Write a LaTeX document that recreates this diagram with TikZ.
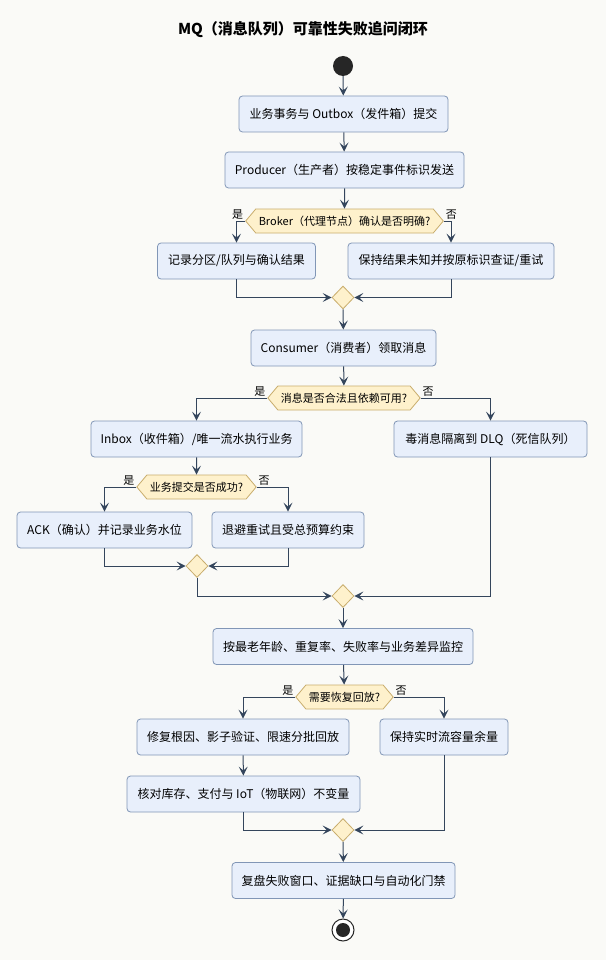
\documentclass[tikz,border=0pt]{standalone}
\usepackage{fontspec}
\setmainfont{Noto Sans CJK SC}
\usetikzlibrary{arrows.meta,shapes.geometric,shapes.symbols}

\definecolor{pagebg}{HTML}{FAFAF7}
\definecolor{stepfill}{HTML}{E8EFFB}
\definecolor{stepline}{HTML}{8196B6}
\definecolor{askfill}{HTML}{FEF1CC}
\definecolor{askline}{HTML}{C9AD6C}
\definecolor{flowline}{HTML}{34455C}

\tikzset{
  stepbox/.style={draw=stepline, fill=stepfill, rounded corners=3.5pt, line width=0.8pt,
    minimum height=36pt, inner xsep=6pt, font=\fontsize{12}{14}\selectfont},
  askbox/.style={shape=signal, signal to=west and east, signal pointer angle=100,
    draw=askline, fill=askfill, line width=0.8pt, minimum height=24pt, inner xsep=3pt,
    font=\fontsize{11}{13}\selectfont},
  joinbox/.style={diamond, draw=askline, fill=askfill, line width=0.8pt,
    minimum width=22pt, minimum height=23pt, inner sep=0pt},
  flow/.style={draw=flowline, line width=1pt,
    -{Stealth[length=9pt,width=9pt,inset=4pt]}},
  tag/.style={font=\fontsize{11}{13}\selectfont, text=black, inner sep=1.5pt}
}

\begin{document}
\begin{tikzpicture}[x=1pt,y=-1pt]
  \fill[pagebg] (0,0) rectangle (606,960);
  \useasboundingbox (0,0) rectangle (606,960);

  \node[font=\fontsize{15}{17}\selectfont\bfseries] (title) at (303,30) {MQ（消息队列）可靠性失败追问闭环};

  % start
  \node[circle, fill=black!85, minimum size=20pt, inner sep=0pt] (begin) at (343,66) {};

  % producer side
  \node[stepbox, minimum width=209pt] (outbox) at (343.5,114) {业务事务与 Outbox（发件箱）提交};
  \node[stepbox, minimum width=239pt] (produce) at (344.5,170) {Producer（生产者）按稳定事件标识发送};
  \node[askbox, minimum width=195pt] (brokerok) at (344.5,221) {Broker（代理节点）确认是否明确?};
  \node[stepbox, minimum width=158pt] (record) at (236.5,261) {记录分区/队列与确认结果};
  \node[stepbox, minimum width=206pt] (recheck) at (451,261) {保持结果未知并按原标识查证/重试};
  \node[joinbox] (join1) at (343,297.5) {};

  % consumer side
  \node[stepbox, minimum width=185pt] (consume) at (343.5,348) {Consumer（消费者）领取消息};
  \node[askbox, minimum width=152pt] (valid) at (344,398) {消息是否合法且依赖可用?};
  \node[stepbox, minimum width=211pt] (inbox) at (196.5,439) {Inbox（收件箱）/唯一流水执行业务};
  \node[stepbox, minimum width=193pt] (dlq) at (490.5,439) {毒消息隔离到 DLQ（死信队列）};
  \node[askbox, minimum width=117pt] (commitok) at (196.5,487) {业务提交是否成功?};
  \node[stepbox, minimum width=175pt] (ack) at (104.5,530) {ACK（确认）并记录业务水位};
  \node[stepbox, minimum width=152pt] (backoff) at (288,530) {退避重试且受总预算约束};
  \node[joinbox] (join2) at (197,566) {};
  \node[joinbox] (join3) at (343,596) {};

  % monitoring and replay
  \node[stepbox, minimum width=260pt] (monitor) at (343,646.5) {按最老年龄、重复率、失败率与业务差异监控};
  \node[askbox, minimum width=95pt] (replay) at (344.5,697) {需要恢复回放?};
  \node[stepbox, minimum width=212pt] (repair) at (243,737) {修复根因、影子验证、限速分批回放};
  \node[stepbox, minimum width=128pt] (spare) at (444,737) {保持实时流容量余量};
  \node[stepbox, minimum width=233pt] (verify) at (243.5,794) {核对库存、支付与 IoT（物联网）不变量};
  \node[joinbox] (join4) at (343,830) {};
  \node[stepbox, minimum width=223pt] (review) at (343.5,880.5) {复盘失败窗口、证据缺口与自动化门禁};

  % end
  \node[circle, draw=black!85, line width=1pt, fill=white, minimum size=22pt, inner sep=0pt] (finish) at (343,930) {};
  \fill[black!85] (finish.center) circle (7);

  % connectors
  \draw[flow] (begin) -- (outbox);
  \draw[flow] (outbox) -- (produce);
  \draw[flow] (produce) -- (brokerok);
  \draw[flow] (brokerok.west) node[tag, above left] {是} -| (record.north);
  \draw[flow] (brokerok.east) node[tag, above right] {否} -| (recheck.north);
  \draw[flow] (record.south) |- (join1.west);
  \draw[flow] (recheck.south) |- (join1.east);
  \draw[flow] (join1) -- (consume);
  \draw[flow] (consume) -- (valid);
  \draw[flow] (valid.west) node[tag, above left] {是} -| (inbox.north);
  \draw[flow] (valid.east) node[tag, above right] {否} -| (dlq.north);
  \draw[flow] (inbox) -- (commitok);
  \draw[flow] (commitok.west) node[tag, above left] {是} -| (ack.north);
  \draw[flow] (commitok.east) node[tag, above right] {否} -| (backoff.north);
  \draw[flow] (ack.south) |- (join2.west);
  \draw[flow] (backoff.south) |- (join2.east);
  \draw[flow] (join2.south) |- (join3.west);
  \draw[flow] (dlq.south) |- (join3.east);
  \draw[flow] (join3) -- (monitor);
  \draw[flow] (monitor) -- (replay);
  \draw[flow] (replay.west) node[tag, above left] {是} -| (repair.north);
  \draw[flow] (replay.east) node[tag, above right] {否} -| (spare.north);
  \draw[flow] (repair) -- (verify);
  \draw[flow] (verify.south) |- (join4.west);
  \draw[flow] (spare.south) |- (join4.east);
  \draw[flow] (join4) -- (review);
  \draw[flow] (review) -- (finish);
\end{tikzpicture}
\end{document}
